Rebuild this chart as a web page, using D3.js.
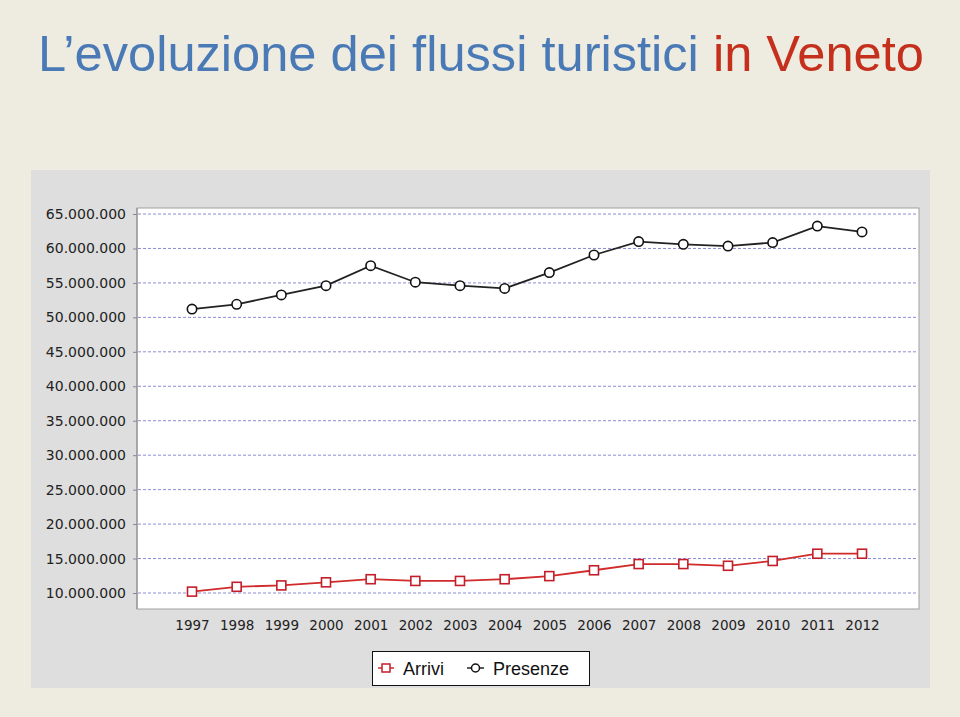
<!DOCTYPE html>
<html>
<head>
<meta charset="utf-8">
<script src="https://cdn.jsdelivr.net/npm/d3@7"></script>
<style>
  body { margin: 0; background: #eeebe1; }
  svg { display: block; }
</style>
</head>
<body>
<svg width="960" height="717"></svg>
<script>
// dati: arrivi e presenze turistiche in Veneto
const years = ['1997', '1998', '1999', '2000', '2001', '2002', '2003', '2004',
  '2005', '2006', '2007', '2008', '2009', '2010', '2011', '2012'];
const arrivi = [10.2, 10.9, 11.1, 11.55, 12.0, 11.75, 11.75, 12.0,
  12.45, 13.3, 14.2, 14.2, 13.95, 14.65, 15.7, 15.7].map((d) => d * 1e6);
const presenze = [51.2, 51.9, 53.25, 54.6, 57.5, 55.1, 54.6, 54.2,
  56.5, 59.05, 61.0, 60.6, 60.35, 60.85, 63.25, 62.4].map((d) => d * 1e6);
const yTicks = [10, 15, 20, 25, 30, 35, 40, 45, 50, 55, 60, 65].map((d) => d * 1e6);

const svg = d3.select('svg');
const sans = 'Liberation Sans, Arial, sans-serif';
const tickFont = 'DejaVu Sans, Verdana, sans-serif';

// titolo
const title = svg.append('text')
  .attr('x', 38)
  .attr('y', 71)
  .attr('font-family', sans)
  .attr('font-size', 50.6);
title.append('tspan').attr('fill', '#4a7ab6').text('L’evoluzione dei flussi turistici ');
title.append('tspan').attr('fill', '#c4301c').text('in Veneto');

// pannello grigio
svg.append('rect')
  .attr('x', 31).attr('y', 170)
  .attr('width', 899).attr('height', 518)
  .attr('fill', '#dedede');

const plot = { left: 137, right: 919, top: 208, bottom: 609 };

svg.append('rect')
  .attr('x', plot.left).attr('y', plot.top)
  .attr('width', plot.right - plot.left).attr('height', plot.bottom - plot.top)
  .attr('fill', '#ffffff')
  .attr('stroke', '#a0a0a0');

const x = d3.scalePoint().domain(years).range([192, 862]);
const y = d3.scaleLinear().domain([10e6, 65e6]).range([593, 214]);

const fmt = (d) => d3.format(',')(d).replace(/,/g, '.');

// griglia
svg.append('g')
  .selectAll('line')
  .data(yTicks)
  .join('line')
  .attr('x1', plot.left + 1)
  .attr('x2', plot.right - 1)
  .attr('y1', (d) => y(d))
  .attr('y2', (d) => y(d))
  .attr('stroke', '#8c8cd8')
  .attr('stroke-width', 1)
  .attr('stroke-dasharray', '3,2');

// asse y
const yAxis = svg.append('g')
  .attr('transform', `translate(${plot.left},0)`)
  .call(d3.axisLeft(y).tickValues(yTicks).tickFormat(fmt).tickSize(4).tickPadding(7));
yAxis.select('.domain').attr('stroke', '#888888')
  .attr('d', `M0,${plot.top}V${plot.bottom}`);
yAxis.selectAll('.tick line').attr('stroke', '#888888');
yAxis.selectAll('.tick text')
  .attr('font-family', tickFont)
  .attr('font-size', 14)
  .attr('fill', '#222');

// asse x
const xAxis = svg.append('g')
  .attr('transform', `translate(0,${plot.bottom})`)
  .call(d3.axisBottom(x).tickSize(0).tickPadding(11));
xAxis.select('.domain').remove();
xAxis.selectAll('.tick text')
  .attr('font-family', tickFont)
  .attr('font-size', 13.5)
  .attr('fill', '#222');

const line = d3.line().x((d, i) => x(years[i])).y((d) => y(d));

// presenze
svg.append('path')
  .datum(presenze)
  .attr('d', line)
  .attr('fill', 'none')
  .attr('stroke', '#222')
  .attr('stroke-width', 1.8);
svg.append('g')
  .selectAll('circle')
  .data(presenze)
  .join('circle')
  .attr('cx', (d, i) => x(years[i]))
  .attr('cy', (d) => y(d))
  .attr('r', 4.7)
  .attr('fill', '#fff')
  .attr('stroke', '#111')
  .attr('stroke-width', 1.6);

// arrivi
svg.append('path')
  .datum(arrivi)
  .attr('d', line)
  .attr('fill', 'none')
  .attr('stroke', '#d02a2a')
  .attr('stroke-width', 1.8);
svg.append('g')
  .selectAll('rect')
  .data(arrivi)
  .join('rect')
  .attr('x', (d, i) => x(years[i]) - 4.5)
  .attr('y', (d) => y(d) - 4.5)
  .attr('width', 9)
  .attr('height', 9)
  .attr('fill', '#fff')
  .attr('stroke', '#c41e2a')
  .attr('stroke-width', 1.6);

// legenda
const legend = svg.append('g').attr('transform', 'translate(372,651)');
legend.append('rect')
  .attr('x', 0.5).attr('y', 0.5)
  .attr('width', 217).attr('height', 34)
  .attr('fill', '#fff')
  .attr('stroke', '#111');

legend.append('line')
  .attr('x1', 6).attr('x2', 22).attr('y1', 17).attr('y2', 17)
  .attr('stroke', '#d02a2a').attr('stroke-width', 1.5);
legend.append('rect')
  .attr('x', 10).attr('y', 13).attr('width', 8).attr('height', 8)
  .attr('fill', '#fff').attr('stroke', '#c41e2a').attr('stroke-width', 1.5);
legend.append('text')
  .attr('x', 31).attr('y', 24)
  .attr('font-family', sans)
  .attr('font-size', 18)
  .attr('fill', '#111')
  .text('Arrivi');

legend.append('line')
  .attr('x1', 95).attr('x2', 112).attr('y1', 17).attr('y2', 17)
  .attr('stroke', '#222').attr('stroke-width', 1.5);
legend.append('circle')
  .attr('cx', 103.5).attr('cy', 17).attr('r', 4)
  .attr('fill', '#fff').attr('stroke', '#111').attr('stroke-width', 1.5);
legend.append('text')
  .attr('x', 121).attr('y', 24)
  .attr('font-family', sans)
  .attr('font-size', 18)
  .attr('fill', '#111')
  .text('Presenze');
</script>
</body>
</html>
